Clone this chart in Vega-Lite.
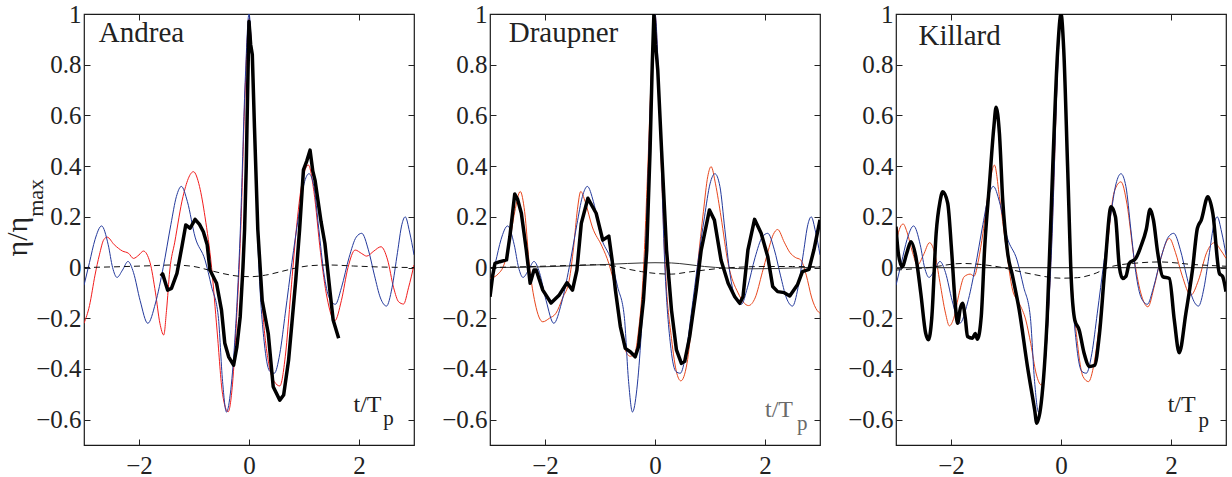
{
  "$schema": "https://vega.github.io/schema/vega-lite/v6.json",
  "background": "white",
  "padding": {"left": 2, "top": 1, "right": 0, "bottom": 0},
  "datasets": {
    "linear": [
      {"t": -3.0, "eta": -0.07}, {"t": -2.9, "eta": 0.02}, {"t": -2.8, "eta": 0.11}, {"t": -2.68, "eta": 0.164},
      {"t": -2.56, "eta": 0.09}, {"t": -2.48, "eta": 0.0}, {"t": -2.4, "eta": -0.039}, {"t": -2.3, "eta": -0.01},
      {"t": -2.2, "eta": 0.024}, {"t": -2.1, "eta": -0.02}, {"t": -1.98, "eta": -0.13}, {"t": -1.84, "eta": -0.22},
      {"t": -1.7, "eta": -0.14}, {"t": -1.56, "eta": 0.0}, {"t": -1.42, "eta": 0.17}, {"t": -1.32, "eta": 0.28},
      {"t": -1.23, "eta": 0.32}, {"t": -1.12, "eta": 0.26}, {"t": -0.98, "eta": 0.12}, {"t": -0.8, "eta": 0.03},
      {"t": -0.68, "eta": -0.076}, {"t": -0.56, "eta": -0.19}, {"t": -0.48, "eta": -0.45}, {"t": -0.41, "eta": -0.57},
      {"t": -0.33, "eta": -0.48}, {"t": -0.25, "eta": -0.26}, {"t": -0.16, "eta": 0.135}, {"t": -0.07, "eta": 0.73},
      {"t": 0.0, "eta": 1.0}, {"t": 0.08, "eta": 0.66}, {"t": 0.17, "eta": 0.05}, {"t": 0.29, "eta": -0.32},
      {"t": 0.38, "eta": -0.41}, {"t": 0.46, "eta": -0.417}, {"t": 0.56, "eta": -0.34}, {"t": 0.66, "eta": -0.18},
      {"t": 0.78, "eta": 0.02}, {"t": 0.9, "eta": 0.2}, {"t": 1.0, "eta": 0.33}, {"t": 1.09, "eta": 0.37},
      {"t": 1.18, "eta": 0.32}, {"t": 1.27, "eta": 0.15}, {"t": 1.36, "eta": -0.02}, {"t": 1.46, "eta": -0.12},
      {"t": 1.57, "eta": -0.145}, {"t": 1.68, "eta": -0.08}, {"t": 1.82, "eta": 0.04}, {"t": 1.95, "eta": 0.12},
      {"t": 2.05, "eta": 0.135}, {"t": 2.17, "eta": 0.07}, {"t": 2.28, "eta": -0.03}, {"t": 2.39, "eta": -0.12},
      {"t": 2.5, "eta": -0.152}, {"t": 2.6, "eta": -0.08}, {"t": 2.7, "eta": 0.06}, {"t": 2.78, "eta": 0.17},
      {"t": 2.84, "eta": 0.2}, {"t": 2.92, "eta": 0.14}, {"t": 3.0, "eta": 0.05}
    ],
    "curves": [
      {"site": "Andrea", "series": "second", "t": -3.0, "eta": -0.22},
      {"site": "Andrea", "series": "second", "t": -2.9, "eta": -0.15},
      {"site": "Andrea", "series": "second", "t": -2.8, "eta": -0.03},
      {"site": "Andrea", "series": "second", "t": -2.72, "eta": 0.05},
      {"site": "Andrea", "series": "second", "t": -2.64, "eta": 0.11},
      {"site": "Andrea", "series": "second", "t": -2.58, "eta": 0.12},
      {"site": "Andrea", "series": "second", "t": -2.45, "eta": 0.09},
      {"site": "Andrea", "series": "second", "t": -2.3, "eta": 0.065},
      {"site": "Andrea", "series": "second", "t": -2.19, "eta": 0.056},
      {"site": "Andrea", "series": "second", "t": -2.1, "eta": 0.036},
      {"site": "Andrea", "series": "second", "t": -2.0, "eta": 0.05},
      {"site": "Andrea", "series": "second", "t": -1.92, "eta": 0.065},
      {"site": "Andrea", "series": "second", "t": -1.8, "eta": 0.02},
      {"site": "Andrea", "series": "second", "t": -1.7, "eta": -0.1},
      {"site": "Andrea", "series": "second", "t": -1.62, "eta": -0.22},
      {"site": "Andrea", "series": "second", "t": -1.55, "eta": -0.266},
      {"site": "Andrea", "series": "second", "t": -1.5, "eta": -0.17},
      {"site": "Andrea", "series": "second", "t": -1.44, "eta": -0.01},
      {"site": "Andrea", "series": "second", "t": -1.35, "eta": 0.1},
      {"site": "Andrea", "series": "second", "t": -1.2, "eta": 0.28},
      {"site": "Andrea", "series": "second", "t": -1.01, "eta": 0.378},
      {"site": "Andrea", "series": "second", "t": -0.9, "eta": 0.32},
      {"site": "Andrea", "series": "second", "t": -0.8, "eta": 0.2},
      {"site": "Andrea", "series": "second", "t": -0.68, "eta": 0.0},
      {"site": "Andrea", "series": "second", "t": -0.58, "eta": -0.25},
      {"site": "Andrea", "series": "second", "t": -0.48, "eta": -0.5},
      {"site": "Andrea", "series": "second", "t": -0.38, "eta": -0.569},
      {"site": "Andrea", "series": "second", "t": -0.3, "eta": -0.46},
      {"site": "Andrea", "series": "second", "t": -0.23, "eta": -0.22},
      {"site": "Andrea", "series": "second", "t": -0.15, "eta": 0.15},
      {"site": "Andrea", "series": "second", "t": -0.07, "eta": 0.7},
      {"site": "Andrea", "series": "second", "t": 0.0, "eta": 0.98},
      {"site": "Andrea", "series": "second", "t": 0.07, "eta": 0.75},
      {"site": "Andrea", "series": "second", "t": 0.16, "eta": 0.18},
      {"site": "Andrea", "series": "second", "t": 0.26, "eta": -0.2},
      {"site": "Andrea", "series": "second", "t": 0.36, "eta": -0.38},
      {"site": "Andrea", "series": "second", "t": 0.46, "eta": -0.45},
      {"site": "Andrea", "series": "second", "t": 0.56, "eta": -0.467},
      {"site": "Andrea", "series": "second", "t": 0.66, "eta": -0.35},
      {"site": "Andrea", "series": "second", "t": 0.76, "eta": -0.1},
      {"site": "Andrea", "series": "second", "t": 0.86, "eta": 0.15},
      {"site": "Andrea", "series": "second", "t": 0.96, "eta": 0.33},
      {"site": "Andrea", "series": "second", "t": 1.08, "eta": 0.404},
      {"site": "Andrea", "series": "second", "t": 1.18, "eta": 0.3},
      {"site": "Andrea", "series": "second", "t": 1.3, "eta": 0.06},
      {"site": "Andrea", "series": "second", "t": 1.42, "eta": -0.12},
      {"site": "Andrea", "series": "second", "t": 1.56, "eta": -0.21},
      {"site": "Andrea", "series": "second", "t": 1.68, "eta": -0.13},
      {"site": "Andrea", "series": "second", "t": 1.8, "eta": 0.0},
      {"site": "Andrea", "series": "second", "t": 1.93, "eta": 0.069},
      {"site": "Andrea", "series": "second", "t": 2.05, "eta": 0.055},
      {"site": "Andrea", "series": "second", "t": 2.14, "eta": 0.045},
      {"site": "Andrea", "series": "second", "t": 2.27, "eta": 0.065},
      {"site": "Andrea", "series": "second", "t": 2.4, "eta": 0.082},
      {"site": "Andrea", "series": "second", "t": 2.52, "eta": 0.03},
      {"site": "Andrea", "series": "second", "t": 2.63, "eta": -0.08},
      {"site": "Andrea", "series": "second", "t": 2.72, "eta": -0.135},
      {"site": "Andrea", "series": "second", "t": 2.81, "eta": -0.144},
      {"site": "Andrea", "series": "second", "t": 2.9, "eta": -0.08},
      {"site": "Andrea", "series": "second", "t": 3.0, "eta": 0.01},

      {"site": "Andrea", "series": "measured", "t": -1.6, "eta": -0.034},
      {"site": "Andrea", "series": "measured", "t": -1.57, "eta": -0.025},
      {"site": "Andrea", "series": "measured", "t": -1.48, "eta": -0.089},
      {"site": "Andrea", "series": "measured", "t": -1.41, "eta": -0.082},
      {"site": "Andrea", "series": "measured", "t": -1.31, "eta": -0.023},
      {"site": "Andrea", "series": "measured", "t": -1.22, "eta": 0.082},
      {"site": "Andrea", "series": "measured", "t": -1.15, "eta": 0.168},
      {"site": "Andrea", "series": "measured", "t": -1.07, "eta": 0.155},
      {"site": "Andrea", "series": "measured", "t": -0.98, "eta": 0.19},
      {"site": "Andrea", "series": "measured", "t": -0.9, "eta": 0.17},
      {"site": "Andrea", "series": "measured", "t": -0.83, "eta": 0.141},
      {"site": "Andrea", "series": "measured", "t": -0.76, "eta": 0.09},
      {"site": "Andrea", "series": "measured", "t": -0.71, "eta": -0.01},
      {"site": "Andrea", "series": "measured", "t": -0.59, "eta": -0.062},
      {"site": "Andrea", "series": "measured", "t": -0.5, "eta": -0.168},
      {"site": "Andrea", "series": "measured", "t": -0.44, "eta": -0.299},
      {"site": "Andrea", "series": "measured", "t": -0.37, "eta": -0.352},
      {"site": "Andrea", "series": "measured", "t": -0.28, "eta": -0.385},
      {"site": "Andrea", "series": "measured", "t": -0.22, "eta": -0.312},
      {"site": "Andrea", "series": "measured", "t": -0.16, "eta": -0.194},
      {"site": "Andrea", "series": "measured", "t": -0.11, "eta": 0.0},
      {"site": "Andrea", "series": "measured", "t": -0.08, "eta": 0.15},
      {"site": "Andrea", "series": "measured", "t": -0.05, "eta": 0.4},
      {"site": "Andrea", "series": "measured", "t": -0.02, "eta": 0.75},
      {"site": "Andrea", "series": "measured", "t": 0.0, "eta": 0.97},
      {"site": "Andrea", "series": "measured", "t": 0.03, "eta": 0.88},
      {"site": "Andrea", "series": "measured", "t": 0.06, "eta": 0.84},
      {"site": "Andrea", "series": "measured", "t": 0.1, "eta": 0.55},
      {"site": "Andrea", "series": "measured", "t": 0.16, "eta": 0.15},
      {"site": "Andrea", "series": "measured", "t": 0.24, "eta": -0.13},
      {"site": "Andrea", "series": "measured", "t": 0.35, "eta": -0.26},
      {"site": "Andrea", "series": "measured", "t": 0.44, "eta": -0.47},
      {"site": "Andrea", "series": "measured", "t": 0.56, "eta": -0.523},
      {"site": "Andrea", "series": "measured", "t": 0.63, "eta": -0.503},
      {"site": "Andrea", "series": "measured", "t": 0.72, "eta": -0.365},
      {"site": "Andrea", "series": "measured", "t": 0.78, "eta": -0.22},
      {"site": "Andrea", "series": "measured", "t": 0.85, "eta": -0.05},
      {"site": "Andrea", "series": "measured", "t": 0.92, "eta": 0.15},
      {"site": "Andrea", "series": "measured", "t": 0.99, "eta": 0.385},
      {"site": "Andrea", "series": "measured", "t": 1.05, "eta": 0.42},
      {"site": "Andrea", "series": "measured", "t": 1.11, "eta": 0.463},
      {"site": "Andrea", "series": "measured", "t": 1.16, "eta": 0.38},
      {"site": "Andrea", "series": "measured", "t": 1.2, "eta": 0.345},
      {"site": "Andrea", "series": "measured", "t": 1.31, "eta": 0.181},
      {"site": "Andrea", "series": "measured", "t": 1.38, "eta": 0.095},
      {"site": "Andrea", "series": "measured", "t": 1.47, "eta": -0.089},
      {"site": "Andrea", "series": "measured", "t": 1.53, "eta": -0.207},
      {"site": "Andrea", "series": "measured", "t": 1.63, "eta": -0.279},

      {"site": "Andrea", "series": "setdown", "t": -3.0, "eta": 0.0},
      {"site": "Andrea", "series": "setdown", "t": -2.4, "eta": 0.003},
      {"site": "Andrea", "series": "setdown", "t": -1.8, "eta": 0.007},
      {"site": "Andrea", "series": "setdown", "t": -1.4, "eta": 0.01},
      {"site": "Andrea", "series": "setdown", "t": -1.0, "eta": 0.004},
      {"site": "Andrea", "series": "setdown", "t": -0.7, "eta": -0.012},
      {"site": "Andrea", "series": "setdown", "t": -0.4, "eta": -0.027},
      {"site": "Andrea", "series": "setdown", "t": -0.15, "eta": -0.035},
      {"site": "Andrea", "series": "setdown", "t": 0.05, "eta": -0.036},
      {"site": "Andrea", "series": "setdown", "t": 0.3, "eta": -0.03},
      {"site": "Andrea", "series": "setdown", "t": 0.6, "eta": -0.015},
      {"site": "Andrea", "series": "setdown", "t": 0.85, "eta": -0.002},
      {"site": "Andrea", "series": "setdown", "t": 1.1, "eta": 0.007},
      {"site": "Andrea", "series": "setdown", "t": 1.45, "eta": 0.01},
      {"site": "Andrea", "series": "setdown", "t": 1.9, "eta": 0.006},
      {"site": "Andrea", "series": "setdown", "t": 2.4, "eta": 0.002},
      {"site": "Andrea", "series": "setdown", "t": 3.0, "eta": 0.0},

      {"site": "Draupner", "series": "second", "t": -3.0, "eta": -0.043},
      {"site": "Draupner", "series": "second", "t": -2.85, "eta": -0.025},
      {"site": "Draupner", "series": "second", "t": -2.76, "eta": 0.003},
      {"site": "Draupner", "series": "second", "t": -2.66, "eta": 0.08},
      {"site": "Draupner", "series": "second", "t": -2.55, "eta": 0.22},
      {"site": "Draupner", "series": "second", "t": -2.45, "eta": 0.3},
      {"site": "Draupner", "series": "second", "t": -2.37, "eta": 0.22},
      {"site": "Draupner", "series": "second", "t": -2.28, "eta": 0.0},
      {"site": "Draupner", "series": "second", "t": -2.18, "eta": -0.14},
      {"site": "Draupner", "series": "second", "t": -2.04, "eta": -0.214},
      {"site": "Draupner", "series": "second", "t": -1.92, "eta": -0.2},
      {"site": "Draupner", "series": "second", "t": -1.8, "eta": -0.18},
      {"site": "Draupner", "series": "second", "t": -1.68, "eta": -0.12},
      {"site": "Draupner", "series": "second", "t": -1.56, "eta": -0.05},
      {"site": "Draupner", "series": "second", "t": -1.48, "eta": 0.08},
      {"site": "Draupner", "series": "second", "t": -1.41, "eta": 0.23},
      {"site": "Draupner", "series": "second", "t": -1.35, "eta": 0.3},
      {"site": "Draupner", "series": "second", "t": -1.27, "eta": 0.26},
      {"site": "Draupner", "series": "second", "t": -1.14, "eta": 0.16},
      {"site": "Draupner", "series": "second", "t": -0.96, "eta": 0.082},
      {"site": "Draupner", "series": "second", "t": -0.84, "eta": 0.016},
      {"site": "Draupner", "series": "second", "t": -0.72, "eta": -0.089},
      {"site": "Draupner", "series": "second", "t": -0.63, "eta": -0.22},
      {"site": "Draupner", "series": "second", "t": -0.55, "eta": -0.32},
      {"site": "Draupner", "series": "second", "t": -0.45, "eta": -0.35},
      {"site": "Draupner", "series": "second", "t": -0.37, "eta": -0.34},
      {"site": "Draupner", "series": "second", "t": -0.3, "eta": -0.25},
      {"site": "Draupner", "series": "second", "t": -0.22, "eta": -0.05},
      {"site": "Draupner", "series": "second", "t": -0.13, "eta": 0.4},
      {"site": "Draupner", "series": "second", "t": -0.06, "eta": 0.8},
      {"site": "Draupner", "series": "second", "t": 0.0, "eta": 1.0},
      {"site": "Draupner", "series": "second", "t": 0.06, "eta": 0.75},
      {"site": "Draupner", "series": "second", "t": 0.13, "eta": 0.3},
      {"site": "Draupner", "series": "second", "t": 0.2, "eta": -0.05},
      {"site": "Draupner", "series": "second", "t": 0.3, "eta": -0.28},
      {"site": "Draupner", "series": "second", "t": 0.4, "eta": -0.42},
      {"site": "Draupner", "series": "second", "t": 0.47, "eta": -0.447},
      {"site": "Draupner", "series": "second", "t": 0.58, "eta": -0.38},
      {"site": "Draupner", "series": "second", "t": 0.68, "eta": -0.2},
      {"site": "Draupner", "series": "second", "t": 0.78, "eta": 0.02},
      {"site": "Draupner", "series": "second", "t": 0.88, "eta": 0.22},
      {"site": "Draupner", "series": "second", "t": 0.96, "eta": 0.36},
      {"site": "Draupner", "series": "second", "t": 1.02, "eta": 0.398},
      {"site": "Draupner", "series": "second", "t": 1.1, "eta": 0.33},
      {"site": "Draupner", "series": "second", "t": 1.2, "eta": 0.2},
      {"site": "Draupner", "series": "second", "t": 1.33, "eta": 0.016},
      {"site": "Draupner", "series": "second", "t": 1.51, "eta": -0.1},
      {"site": "Draupner", "series": "second", "t": 1.7, "eta": -0.15},
      {"site": "Draupner", "series": "second", "t": 1.82, "eta": -0.12},
      {"site": "Draupner", "series": "second", "t": 1.95, "eta": -0.02},
      {"site": "Draupner", "series": "second", "t": 2.05, "eta": 0.06},
      {"site": "Draupner", "series": "second", "t": 2.15, "eta": 0.13},
      {"site": "Draupner", "series": "second", "t": 2.23, "eta": 0.15},
      {"site": "Draupner", "series": "second", "t": 2.35, "eta": 0.1},
      {"site": "Draupner", "series": "second", "t": 2.45, "eta": 0.06},
      {"site": "Draupner", "series": "second", "t": 2.55, "eta": 0.04},
      {"site": "Draupner", "series": "second", "t": 2.65, "eta": 0.03},
      {"site": "Draupner", "series": "second", "t": 2.75, "eta": -0.03},
      {"site": "Draupner", "series": "second", "t": 2.85, "eta": -0.12},
      {"site": "Draupner", "series": "second", "t": 2.95, "eta": -0.17},
      {"site": "Draupner", "series": "second", "t": 3.0, "eta": -0.18},

      {"site": "Draupner", "series": "measured", "t": -3.0, "eta": -0.115},
      {"site": "Draupner", "series": "measured", "t": -2.95, "eta": -0.03},
      {"site": "Draupner", "series": "measured", "t": -2.91, "eta": 0.016},
      {"site": "Draupner", "series": "measured", "t": -2.82, "eta": 0.023},
      {"site": "Draupner", "series": "measured", "t": -2.7, "eta": 0.03},
      {"site": "Draupner", "series": "measured", "t": -2.64, "eta": 0.12},
      {"site": "Draupner", "series": "measured", "t": -2.55, "eta": 0.29},
      {"site": "Draupner", "series": "measured", "t": -2.5, "eta": 0.27},
      {"site": "Draupner", "series": "measured", "t": -2.43, "eta": 0.214},
      {"site": "Draupner", "series": "measured", "t": -2.34, "eta": 0.069},
      {"site": "Draupner", "series": "measured", "t": -2.27, "eta": -0.062},
      {"site": "Draupner", "series": "measured", "t": -2.2, "eta": -0.01},
      {"site": "Draupner", "series": "measured", "t": -2.16, "eta": -0.01},
      {"site": "Draupner", "series": "measured", "t": -2.04, "eta": -0.089},
      {"site": "Draupner", "series": "measured", "t": -1.89, "eta": -0.14},
      {"site": "Draupner", "series": "measured", "t": -1.74, "eta": -0.108},
      {"site": "Draupner", "series": "measured", "t": -1.6, "eta": -0.06},
      {"site": "Draupner", "series": "measured", "t": -1.5, "eta": -0.089},
      {"site": "Draupner", "series": "measured", "t": -1.42, "eta": -0.01},
      {"site": "Draupner", "series": "measured", "t": -1.34, "eta": 0.174},
      {"site": "Draupner", "series": "measured", "t": -1.22, "eta": 0.273},
      {"site": "Draupner", "series": "measured", "t": -1.07, "eta": 0.214},
      {"site": "Draupner", "series": "measured", "t": -0.95, "eta": 0.108},
      {"site": "Draupner", "series": "measured", "t": -0.84, "eta": 0.124},
      {"site": "Draupner", "series": "measured", "t": -0.78, "eta": 0.03},
      {"site": "Draupner", "series": "measured", "t": -0.72, "eta": -0.089},
      {"site": "Draupner", "series": "measured", "t": -0.63, "eta": -0.233},
      {"site": "Draupner", "series": "measured", "t": -0.54, "eta": -0.319},
      {"site": "Draupner", "series": "measured", "t": -0.45, "eta": -0.332},
      {"site": "Draupner", "series": "measured", "t": -0.36, "eta": -0.352},
      {"site": "Draupner", "series": "measured", "t": -0.3, "eta": -0.312},
      {"site": "Draupner", "series": "measured", "t": -0.21, "eta": -0.128},
      {"site": "Draupner", "series": "measured", "t": -0.15, "eta": 0.069},
      {"site": "Draupner", "series": "measured", "t": -0.09, "eta": 0.46},
      {"site": "Draupner", "series": "measured", "t": -0.05, "eta": 0.8},
      {"site": "Draupner", "series": "measured", "t": -0.02, "eta": 1.0},
      {"site": "Draupner", "series": "measured", "t": 0.01, "eta": 0.88},
      {"site": "Draupner", "series": "measured", "t": 0.05, "eta": 0.78},
      {"site": "Draupner", "series": "measured", "t": 0.12, "eta": 0.46},
      {"site": "Draupner", "series": "measured", "t": 0.21, "eta": 0.069},
      {"site": "Draupner", "series": "measured", "t": 0.3, "eta": -0.168},
      {"site": "Draupner", "series": "measured", "t": 0.39, "eta": -0.325},
      {"site": "Draupner", "series": "measured", "t": 0.48, "eta": -0.378},
      {"site": "Draupner", "series": "measured", "t": 0.54, "eta": -0.37},
      {"site": "Draupner", "series": "measured", "t": 0.63, "eta": -0.273},
      {"site": "Draupner", "series": "measured", "t": 0.75, "eta": -0.089},
      {"site": "Draupner", "series": "measured", "t": 0.84, "eta": 0.069},
      {"site": "Draupner", "series": "measured", "t": 0.99, "eta": 0.227},
      {"site": "Draupner", "series": "measured", "t": 1.08, "eta": 0.187},
      {"site": "Draupner", "series": "measured", "t": 1.2, "eta": 0.03},
      {"site": "Draupner", "series": "measured", "t": 1.33, "eta": -0.062},
      {"site": "Draupner", "series": "measured", "t": 1.45, "eta": -0.115},
      {"site": "Draupner", "series": "measured", "t": 1.54, "eta": -0.141},
      {"site": "Draupner", "series": "measured", "t": 1.6, "eta": -0.115},
      {"site": "Draupner", "series": "measured", "t": 1.69, "eta": 0.07},
      {"site": "Draupner", "series": "measured", "t": 1.81, "eta": 0.19},
      {"site": "Draupner", "series": "measured", "t": 1.93, "eta": 0.135},
      {"site": "Draupner", "series": "measured", "t": 2.05, "eta": 0.043},
      {"site": "Draupner", "series": "measured", "t": 2.14, "eta": -0.075},
      {"site": "Draupner", "series": "measured", "t": 2.23, "eta": -0.095},
      {"site": "Draupner", "series": "measured", "t": 2.35, "eta": -0.099},
      {"site": "Draupner", "series": "measured", "t": 2.45, "eta": -0.112},
      {"site": "Draupner", "series": "measured", "t": 2.59, "eta": -0.068},
      {"site": "Draupner", "series": "measured", "t": 2.68, "eta": -0.016},
      {"site": "Draupner", "series": "measured", "t": 2.8, "eta": -0.007},
      {"site": "Draupner", "series": "measured", "t": 2.89, "eta": 0.07},
      {"site": "Draupner", "series": "measured", "t": 3.0, "eta": 0.188},

      {"site": "Draupner", "series": "difference", "t": -3.0, "eta": 0.0},
      {"site": "Draupner", "series": "difference", "t": -2.4, "eta": 0.001},
      {"site": "Draupner", "series": "difference", "t": -1.6, "eta": 0.006},
      {"site": "Draupner", "series": "difference", "t": -1.0, "eta": 0.011},
      {"site": "Draupner", "series": "difference", "t": -0.5, "eta": 0.016},
      {"site": "Draupner", "series": "difference", "t": 0.0, "eta": 0.019},
      {"site": "Draupner", "series": "difference", "t": 0.3, "eta": 0.018},
      {"site": "Draupner", "series": "difference", "t": 0.6, "eta": 0.012},
      {"site": "Draupner", "series": "difference", "t": 0.9, "eta": 0.004},
      {"site": "Draupner", "series": "difference", "t": 1.3, "eta": -0.002},
      {"site": "Draupner", "series": "difference", "t": 1.7, "eta": -0.005},
      {"site": "Draupner", "series": "difference", "t": 2.2, "eta": -0.004},
      {"site": "Draupner", "series": "difference", "t": 2.6, "eta": -0.001},
      {"site": "Draupner", "series": "difference", "t": 3.0, "eta": 0.002},

      {"site": "Draupner", "series": "setdown", "t": -3.0, "eta": 0.0},
      {"site": "Draupner", "series": "setdown", "t": -2.4, "eta": 0.003},
      {"site": "Draupner", "series": "setdown", "t": -1.6, "eta": 0.008},
      {"site": "Draupner", "series": "setdown", "t": -1.1, "eta": 0.011},
      {"site": "Draupner", "series": "setdown", "t": -0.8, "eta": 0.008},
      {"site": "Draupner", "series": "setdown", "t": -0.5, "eta": -0.006},
      {"site": "Draupner", "series": "setdown", "t": -0.25, "eta": -0.016},
      {"site": "Draupner", "series": "setdown", "t": 0.05, "eta": -0.024},
      {"site": "Draupner", "series": "setdown", "t": 0.3, "eta": -0.026},
      {"site": "Draupner", "series": "setdown", "t": 0.6, "eta": -0.018},
      {"site": "Draupner", "series": "setdown", "t": 0.9, "eta": -0.01},
      {"site": "Draupner", "series": "setdown", "t": 1.2, "eta": -0.003},
      {"site": "Draupner", "series": "setdown", "t": 1.6, "eta": 0.002},
      {"site": "Draupner", "series": "setdown", "t": 2.0, "eta": 0.004},
      {"site": "Draupner", "series": "setdown", "t": 2.5, "eta": 0.004},
      {"site": "Draupner", "series": "setdown", "t": 3.0, "eta": 0.003},

      {"site": "Killard", "series": "second", "t": -3.0, "eta": 0.095},
      {"site": "Killard", "series": "second", "t": -2.94, "eta": 0.15},
      {"site": "Killard", "series": "second", "t": -2.87, "eta": 0.172},
      {"site": "Killard", "series": "second", "t": -2.8, "eta": 0.14},
      {"site": "Killard", "series": "second", "t": -2.7, "eta": 0.06},
      {"site": "Killard", "series": "second", "t": -2.61, "eta": 0.01},
      {"site": "Killard", "series": "second", "t": -2.5, "eta": 0.05},
      {"site": "Killard", "series": "second", "t": -2.39, "eta": 0.098},
      {"site": "Killard", "series": "second", "t": -2.3, "eta": 0.06},
      {"site": "Killard", "series": "second", "t": -2.2, "eta": -0.06},
      {"site": "Killard", "series": "second", "t": -2.1, "eta": -0.18},
      {"site": "Killard", "series": "second", "t": -2.03, "eta": -0.23},
      {"site": "Killard", "series": "second", "t": -1.95, "eta": -0.2},
      {"site": "Killard", "series": "second", "t": -1.85, "eta": -0.1},
      {"site": "Killard", "series": "second", "t": -1.76, "eta": -0.036},
      {"site": "Killard", "series": "second", "t": -1.65, "eta": -0.026},
      {"site": "Killard", "series": "second", "t": -1.58, "eta": -0.034},
      {"site": "Killard", "series": "second", "t": -1.5, "eta": 0.03},
      {"site": "Killard", "series": "second", "t": -1.42, "eta": 0.135},
      {"site": "Killard", "series": "second", "t": -1.32, "eta": 0.3},
      {"site": "Killard", "series": "second", "t": -1.21, "eta": 0.404},
      {"site": "Killard", "series": "second", "t": -1.12, "eta": 0.28},
      {"site": "Killard", "series": "second", "t": -1.0, "eta": 0.082},
      {"site": "Killard", "series": "second", "t": -0.88, "eta": -0.089},
      {"site": "Killard", "series": "second", "t": -0.76, "eta": -0.141},
      {"site": "Killard", "series": "second", "t": -0.64, "eta": -0.207},
      {"site": "Killard", "series": "second", "t": -0.55, "eta": -0.3},
      {"site": "Killard", "series": "second", "t": -0.45, "eta": -0.42},
      {"site": "Killard", "series": "second", "t": -0.36, "eta": -0.463},
      {"site": "Killard", "series": "second", "t": -0.28, "eta": -0.35},
      {"site": "Killard", "series": "second", "t": -0.2, "eta": -0.05},
      {"site": "Killard", "series": "second", "t": -0.12, "eta": 0.4},
      {"site": "Killard", "series": "second", "t": -0.06, "eta": 0.8},
      {"site": "Killard", "series": "second", "t": 0.0, "eta": 1.0},
      {"site": "Killard", "series": "second", "t": 0.06, "eta": 0.75},
      {"site": "Killard", "series": "second", "t": 0.13, "eta": 0.3},
      {"site": "Killard", "series": "second", "t": 0.2, "eta": -0.05},
      {"site": "Killard", "series": "second", "t": 0.3, "eta": -0.3},
      {"site": "Killard", "series": "second", "t": 0.4, "eta": -0.43},
      {"site": "Killard", "series": "second", "t": 0.5, "eta": -0.45},
      {"site": "Killard", "series": "second", "t": 0.6, "eta": -0.38},
      {"site": "Killard", "series": "second", "t": 0.72, "eta": -0.18},
      {"site": "Killard", "series": "second", "t": 0.85, "eta": 0.1},
      {"site": "Killard", "series": "second", "t": 0.97, "eta": 0.3},
      {"site": "Killard", "series": "second", "t": 1.09, "eta": 0.338},
      {"site": "Killard", "series": "second", "t": 1.2, "eta": 0.25},
      {"site": "Killard", "series": "second", "t": 1.32, "eta": 0.05},
      {"site": "Killard", "series": "second", "t": 1.45, "eta": -0.1},
      {"site": "Killard", "series": "second", "t": 1.58, "eta": -0.155},
      {"site": "Killard", "series": "second", "t": 1.7, "eta": -0.07},
      {"site": "Killard", "series": "second", "t": 1.82, "eta": 0.04},
      {"site": "Killard", "series": "second", "t": 1.97, "eta": 0.115},
      {"site": "Killard", "series": "second", "t": 2.08, "eta": 0.06},
      {"site": "Killard", "series": "second", "t": 2.2, "eta": -0.03},
      {"site": "Killard", "series": "second", "t": 2.36, "eta": -0.109},
      {"site": "Killard", "series": "second", "t": 2.5, "eta": -0.05},
      {"site": "Killard", "series": "second", "t": 2.65, "eta": 0.06},
      {"site": "Killard", "series": "second", "t": 2.79, "eta": 0.098},
      {"site": "Killard", "series": "second", "t": 2.9, "eta": 0.07},
      {"site": "Killard", "series": "second", "t": 3.0, "eta": 0.036},

      {"site": "Killard", "series": "measured", "t": -3.0, "eta": 0.161},
      {"site": "Killard", "series": "measured", "t": -2.96, "eta": 0.06},
      {"site": "Killard", "series": "measured", "t": -2.89, "eta": 0.003},
      {"site": "Killard", "series": "measured", "t": -2.8, "eta": 0.06},
      {"site": "Killard", "series": "measured", "t": -2.73, "eta": 0.102},
      {"site": "Killard", "series": "measured", "t": -2.64, "eta": 0.043},
      {"site": "Killard", "series": "measured", "t": -2.55, "eta": -0.1},
      {"site": "Killard", "series": "measured", "t": -2.46, "eta": -0.26},
      {"site": "Killard", "series": "measured", "t": -2.41, "eta": -0.285},
      {"site": "Killard", "series": "measured", "t": -2.35, "eta": -0.2},
      {"site": "Killard", "series": "measured", "t": -2.27, "eta": 0.135},
      {"site": "Killard", "series": "measured", "t": -2.2, "eta": 0.26},
      {"site": "Killard", "series": "measured", "t": -2.15, "eta": 0.299},
      {"site": "Killard", "series": "measured", "t": -2.06, "eta": 0.254},
      {"site": "Killard", "series": "measured", "t": -1.99, "eta": 0.07},
      {"site": "Killard", "series": "measured", "t": -1.92, "eta": -0.15},
      {"site": "Killard", "series": "measured", "t": -1.88, "eta": -0.22},
      {"site": "Killard", "series": "measured", "t": -1.83, "eta": -0.16},
      {"site": "Killard", "series": "measured", "t": -1.79, "eta": -0.141},
      {"site": "Killard", "series": "measured", "t": -1.74, "eta": -0.2},
      {"site": "Killard", "series": "measured", "t": -1.7, "eta": -0.272},
      {"site": "Killard", "series": "measured", "t": -1.61, "eta": -0.279},
      {"site": "Killard", "series": "measured", "t": -1.56, "eta": -0.26},
      {"site": "Killard", "series": "measured", "t": -1.52, "eta": -0.283},
      {"site": "Killard", "series": "measured", "t": -1.45, "eta": -0.193},
      {"site": "Killard", "series": "measured", "t": -1.39, "eta": 0.07},
      {"site": "Killard", "series": "measured", "t": -1.3, "eta": 0.332},
      {"site": "Killard", "series": "measured", "t": -1.22, "eta": 0.556},
      {"site": "Killard", "series": "measured", "t": -1.18, "eta": 0.632},
      {"site": "Killard", "series": "measured", "t": -1.12, "eta": 0.53},
      {"site": "Killard", "series": "measured", "t": -1.06, "eta": 0.267},
      {"site": "Killard", "series": "measured", "t": -0.97, "eta": 0.057},
      {"site": "Killard", "series": "measured", "t": -0.88, "eta": -0.035},
      {"site": "Killard", "series": "measured", "t": -0.76, "eta": -0.167},
      {"site": "Killard", "series": "measured", "t": -0.61, "eta": -0.39},
      {"site": "Killard", "series": "measured", "t": -0.48, "eta": -0.56},
      {"site": "Killard", "series": "measured", "t": -0.44, "eta": -0.614},
      {"site": "Killard", "series": "measured", "t": -0.36, "eta": -0.535},
      {"site": "Killard", "series": "measured", "t": -0.25, "eta": -0.193},
      {"site": "Killard", "series": "measured", "t": -0.15, "eta": 0.398},
      {"site": "Killard", "series": "measured", "t": -0.06, "eta": 0.858},
      {"site": "Killard", "series": "measured", "t": 0.0, "eta": 1.0},
      {"site": "Killard", "series": "measured", "t": 0.05, "eta": 0.858},
      {"site": "Killard", "series": "measured", "t": 0.12, "eta": 0.4},
      {"site": "Killard", "series": "measured", "t": 0.19, "eta": -0.062},
      {"site": "Killard", "series": "measured", "t": 0.25, "eta": -0.206},
      {"site": "Killard", "series": "measured", "t": 0.33, "eta": -0.246},
      {"site": "Killard", "series": "measured", "t": 0.42, "eta": -0.338},
      {"site": "Killard", "series": "measured", "t": 0.52, "eta": -0.39},
      {"site": "Killard", "series": "measured", "t": 0.61, "eta": -0.386},
      {"site": "Killard", "series": "measured", "t": 0.7, "eta": -0.26},
      {"site": "Killard", "series": "measured", "t": 0.8, "eta": 0.004},
      {"site": "Killard", "series": "measured", "t": 0.91, "eta": 0.24},
      {"site": "Killard", "series": "measured", "t": 0.99, "eta": 0.2},
      {"site": "Killard", "series": "measured", "t": 1.06, "eta": 0.004},
      {"site": "Killard", "series": "measured", "t": 1.12, "eta": -0.043},
      {"site": "Killard", "series": "measured", "t": 1.18, "eta": -0.035},
      {"site": "Killard", "series": "measured", "t": 1.24, "eta": 0.016},
      {"site": "Killard", "series": "measured", "t": 1.36, "eta": 0.036},
      {"site": "Killard", "series": "measured", "t": 1.45, "eta": 0.082},
      {"site": "Killard", "series": "measured", "t": 1.55, "eta": 0.15},
      {"site": "Killard", "series": "measured", "t": 1.62, "eta": 0.23},
      {"site": "Killard", "series": "measured", "t": 1.68, "eta": 0.188},
      {"site": "Killard", "series": "measured", "t": 1.76, "eta": 0.056},
      {"site": "Killard", "series": "measured", "t": 1.85, "eta": -0.036},
      {"site": "Killard", "series": "measured", "t": 1.97, "eta": -0.043},
      {"site": "Killard", "series": "measured", "t": 2.06, "eta": -0.207},
      {"site": "Killard", "series": "measured", "t": 2.15, "eta": -0.336},
      {"site": "Killard", "series": "measured", "t": 2.27, "eta": -0.181},
      {"site": "Killard", "series": "measured", "t": 2.39, "eta": -0.01},
      {"site": "Killard", "series": "measured", "t": 2.48, "eta": 0.155},
      {"site": "Killard", "series": "measured", "t": 2.55, "eta": 0.187},
      {"site": "Killard", "series": "measured", "t": 2.67, "eta": 0.279},
      {"site": "Killard", "series": "measured", "t": 2.76, "eta": 0.214},
      {"site": "Killard", "series": "measured", "t": 2.88, "eta": -0.023},
      {"site": "Killard", "series": "measured", "t": 2.94, "eta": -0.036},
      {"site": "Killard", "series": "measured", "t": 3.0, "eta": -0.095},

      {"site": "Killard", "series": "difference", "t": -3.0, "eta": 0.0},
      {"site": "Killard", "series": "difference", "t": 0.0, "eta": 0.0},
      {"site": "Killard", "series": "difference", "t": 3.0, "eta": 0.0},

      {"site": "Killard", "series": "setdown", "t": -3.0, "eta": -0.01},
      {"site": "Killard", "series": "setdown", "t": -2.4, "eta": 0.0},
      {"site": "Killard", "series": "setdown", "t": -1.8, "eta": 0.016},
      {"site": "Killard", "series": "setdown", "t": -1.2, "eta": 0.005},
      {"site": "Killard", "series": "setdown", "t": -0.6, "eta": -0.023},
      {"site": "Killard", "series": "setdown", "t": 0.0, "eta": -0.042},
      {"site": "Killard", "series": "setdown", "t": 0.3, "eta": -0.04},
      {"site": "Killard", "series": "setdown", "t": 0.6, "eta": -0.025},
      {"site": "Killard", "series": "setdown", "t": 0.9, "eta": 0.003},
      {"site": "Killard", "series": "setdown", "t": 1.4, "eta": 0.018},
      {"site": "Killard", "series": "setdown", "t": 1.8, "eta": 0.022},
      {"site": "Killard", "series": "setdown", "t": 2.4, "eta": 0.012},
      {"site": "Killard", "series": "setdown", "t": 3.0, "eta": 0.005}
    ],
    "sites": [{"site": "Andrea"}, {"site": "Draupner"}, {"site": "Killard"}]
  },
  "config": {
    "view": {"stroke": "#1a1a1a", "strokeWidth": 1.2},
    "text": {"font": "Liberation Serif", "color": "#222222"}
  },
  "spacing": 76,
  "bounds": "flush",
  "hconcat": [
    {
      "width": 330,
      "height": 431,
      "resolve": {"axis": {"x": "independent", "y": "independent"}},
      "layer": [
        {
          "data": {"name": "curves"},
          "transform": [{"filter": "datum.site == 'Andrea' && datum.series == 'second'"}],
          "mark": {"type": "line", "color": "#f21c1c", "strokeWidth": 1, "interpolate": "monotone", "clip": true},
          "encoding": {
            "x": {"field": "t", "type": "quantitative", "scale": {"domain": [-3, 3], "nice": false, "zero": false},
                  "axis": {"orient": "bottom", "values": [-2, 0, 2], "format": "~g", "title": null, "domain": false, "grid": false, "labelFont": "Liberation Serif", "labelFontSize": 25, "labelColor": "#222222", "tickColor": "#222222", "tickSize": -6, "labelPadding": 14}},
            "y": {"field": "eta", "type": "quantitative", "scale": {"domain": [-0.7, 1], "nice": false, "zero": false},
                  "axis": {"orient": "left", "values": [-0.6, -0.4, -0.2, 0, 0.2, 0.4, 0.6, 0.8, 1], "format": "~g", "title": null, "domain": false, "grid": false, "labelFont": "Liberation Serif", "labelFontSize": 25, "labelColor": "#222222", "tickColor": "#222222", "tickSize": -6, "labelPadding": 9}}
          }
        },
        {
          "data": {"name": "linear"},
          "mark": {"type": "line", "color": "#23399c", "strokeWidth": 1, "interpolate": "monotone", "clip": true},
          "encoding": {
            "x": {"field": "t", "type": "quantitative", "axis": {"orient": "top", "values": [-2, 0, 2], "labels": false, "title": null, "domain": false, "grid": false, "tickColor": "#222222", "tickSize": -6}},
            "y": {"field": "eta", "type": "quantitative", "axis": {"orient": "right", "values": [-0.6, -0.4, -0.2, 0, 0.2, 0.4, 0.6, 0.8, 1], "labels": false, "title": null, "domain": false, "grid": false, "tickColor": "#222222", "tickSize": -6}}
          }
        },
        {
          "data": {"name": "curves"},
          "transform": [{"filter": "datum.site == 'Andrea' && datum.series == 'setdown'"}],
          "mark": {"type": "line", "color": "#111111", "strokeWidth": 1, "strokeDash": [6, 4], "interpolate": "monotone", "clip": true},
          "encoding": {"x": {"field": "t", "type": "quantitative", "axis": null}, "y": {"field": "eta", "type": "quantitative", "axis": null}}
        },
        {
          "data": {"name": "curves"},
          "transform": [{"filter": "datum.site == 'Andrea' && datum.series == 'measured'"}],
          "mark": {"type": "line", "color": "#000000", "strokeWidth": 3.5, "strokeJoin": "round", "clip": true},
          "encoding": {"x": {"field": "t", "type": "quantitative", "axis": null}, "y": {"field": "eta", "type": "quantitative", "axis": null}}
        },
        {
          "data": {"name": "sites"},
          "transform": [{"filter": "datum.site == 'Andrea'"}],
          "mark": {"type": "text", "fontSize": 29, "align": "left", "baseline": "alphabetic"},
          "encoding": {"x": {"datum": -2.73, "type": "quantitative", "axis": null}, "y": {"datum": 0.89, "type": "quantitative", "axis": null}, "text": {"field": "site"}}
        },
        {
          "data": {"name": "sites"},
          "transform": [{"filter": "datum.site == 'Andrea'"}],
          "mark": {"type": "text", "text": "t/T", "fontSize": 24, "align": "left", "baseline": "alphabetic"},
          "encoding": {"x": {"datum": 1.9, "type": "quantitative", "axis": null}, "y": {"datum": -0.569, "type": "quantitative", "axis": null}}
        },
        {
          "data": {"name": "sites"},
          "transform": [{"filter": "datum.site == 'Andrea'"}],
          "mark": {"type": "text", "text": "p", "fontSize": 21, "align": "left", "baseline": "alphabetic"},
          "encoding": {"x": {"datum": 2.44, "type": "quantitative", "axis": null}, "y": {"datum": -0.621, "type": "quantitative", "axis": null}}
        },
        {
          "data": {"name": "sites"},
          "transform": [{"filter": "datum.site == 'Andrea'"}],
          "mark": {"type": "text", "text": "η/η", "fontSize": 30, "angle": 270, "align": "right", "baseline": "alphabetic", "dy": -57},
          "encoding": {"x": {"datum": -3, "type": "quantitative", "axis": null}, "y": {"datum": 0.2, "type": "quantitative", "axis": null}}
        },
        {
          "data": {"name": "sites"},
          "transform": [{"filter": "datum.site == 'Andrea'"}],
          "mark": {"type": "text", "text": "max", "fontSize": 22, "angle": 270, "align": "left", "baseline": "alphabetic", "dy": -41},
          "encoding": {"x": {"datum": -3, "type": "quantitative", "axis": null}, "y": {"datum": 0.2, "type": "quantitative", "axis": null}}
        }
      ]
    },
    {
      "width": 330,
      "height": 431,
      "resolve": {"axis": {"x": "independent", "y": "independent"}},
      "layer": [
        {
          "data": {"name": "curves"},
          "transform": [{"filter": "datum.site == 'Draupner' && datum.series == 'second'"}],
          "mark": {"type": "line", "color": "#e8461c", "strokeWidth": 1, "interpolate": "monotone", "clip": true},
          "encoding": {
            "x": {"field": "t", "type": "quantitative", "scale": {"domain": [-3, 3], "nice": false, "zero": false},
                  "axis": {"orient": "bottom", "values": [-2, 0, 2], "format": "~g", "title": null, "domain": false, "grid": false, "labelFont": "Liberation Serif", "labelFontSize": 25, "labelColor": "#222222", "tickColor": "#222222", "tickSize": -6, "labelPadding": 14}},
            "y": {"field": "eta", "type": "quantitative", "scale": {"domain": [-0.7, 1], "nice": false, "zero": false},
                  "axis": {"orient": "left", "values": [-0.6, -0.4, -0.2, 0, 0.2, 0.4, 0.6, 0.8, 1], "format": "~g", "title": null, "domain": false, "grid": false, "labelFont": "Liberation Serif", "labelFontSize": 25, "labelColor": "#222222", "tickColor": "#222222", "tickSize": -6, "labelPadding": 9}}
          }
        },
        {
          "data": {"name": "linear"},
          "mark": {"type": "line", "color": "#23399c", "strokeWidth": 1, "interpolate": "monotone", "clip": true},
          "encoding": {
            "x": {"field": "t", "type": "quantitative", "axis": {"orient": "top", "values": [-2, 0, 2], "labels": false, "title": null, "domain": false, "grid": false, "tickColor": "#222222", "tickSize": -6}},
            "y": {"field": "eta", "type": "quantitative", "axis": {"orient": "right", "values": [-0.6, -0.4, -0.2, 0, 0.2, 0.4, 0.6, 0.8, 1], "labels": false, "title": null, "domain": false, "grid": false, "tickColor": "#222222", "tickSize": -6}}
          }
        },
        {
          "data": {"name": "curves"},
          "transform": [{"filter": "datum.site == 'Draupner' && datum.series == 'difference'"}],
          "mark": {"type": "line", "color": "#333333", "strokeWidth": 1, "interpolate": "monotone", "clip": true},
          "encoding": {"x": {"field": "t", "type": "quantitative", "axis": null}, "y": {"field": "eta", "type": "quantitative", "axis": null}}
        },
        {
          "data": {"name": "curves"},
          "transform": [{"filter": "datum.site == 'Draupner' && datum.series == 'setdown'"}],
          "mark": {"type": "line", "color": "#111111", "strokeWidth": 1, "strokeDash": [6, 4], "interpolate": "monotone", "clip": true},
          "encoding": {"x": {"field": "t", "type": "quantitative", "axis": null}, "y": {"field": "eta", "type": "quantitative", "axis": null}}
        },
        {
          "data": {"name": "curves"},
          "transform": [{"filter": "datum.site == 'Draupner' && datum.series == 'measured'"}],
          "mark": {"type": "line", "color": "#000000", "strokeWidth": 3.5, "strokeJoin": "round", "clip": true},
          "encoding": {"x": {"field": "t", "type": "quantitative", "axis": null}, "y": {"field": "eta", "type": "quantitative", "axis": null}}
        },
        {
          "data": {"name": "sites"},
          "transform": [{"filter": "datum.site == 'Draupner'"}],
          "mark": {"type": "text", "fontSize": 29, "align": "left", "baseline": "alphabetic"},
          "encoding": {"x": {"datum": -2.66, "type": "quantitative", "axis": null}, "y": {"datum": 0.89, "type": "quantitative", "axis": null}, "text": {"field": "site"}}
        },
        {
          "data": {"name": "sites"},
          "transform": [{"filter": "datum.site == 'Draupner'"}],
          "mark": {"type": "text", "text": "t/T", "fontSize": 24, "align": "left", "baseline": "alphabetic", "color": "#6a6a6a"},
          "encoding": {"x": {"datum": 2.0, "type": "quantitative", "axis": null}, "y": {"datum": -0.589, "type": "quantitative", "axis": null}}
        },
        {
          "data": {"name": "sites"},
          "transform": [{"filter": "datum.site == 'Draupner'"}],
          "mark": {"type": "text", "text": "p", "fontSize": 21, "align": "left", "baseline": "alphabetic", "color": "#6a6a6a"},
          "encoding": {"x": {"datum": 2.58, "type": "quantitative", "axis": null}, "y": {"datum": -0.64, "type": "quantitative", "axis": null}}
        }
      ]
    },
    {
      "width": 330,
      "height": 431,
      "resolve": {"axis": {"x": "independent", "y": "independent"}},
      "layer": [
        {
          "data": {"name": "curves"},
          "transform": [{"filter": "datum.site == 'Killard' && datum.series == 'second'"}],
          "mark": {"type": "line", "color": "#e8461c", "strokeWidth": 1, "interpolate": "monotone", "clip": true},
          "encoding": {
            "x": {"field": "t", "type": "quantitative", "scale": {"domain": [-3, 3], "nice": false, "zero": false},
                  "axis": {"orient": "bottom", "values": [-2, 0, 2], "format": "~g", "title": null, "domain": false, "grid": false, "labelFont": "Liberation Serif", "labelFontSize": 25, "labelColor": "#222222", "tickColor": "#222222", "tickSize": -6, "labelPadding": 14}},
            "y": {"field": "eta", "type": "quantitative", "scale": {"domain": [-0.7, 1], "nice": false, "zero": false},
                  "axis": {"orient": "left", "values": [-0.6, -0.4, -0.2, 0, 0.2, 0.4, 0.6, 0.8, 1], "format": "~g", "title": null, "domain": false, "grid": false, "labelFont": "Liberation Serif", "labelFontSize": 25, "labelColor": "#222222", "tickColor": "#222222", "tickSize": -6, "labelPadding": 9}}
          }
        },
        {
          "data": {"name": "linear"},
          "mark": {"type": "line", "color": "#23399c", "strokeWidth": 1, "interpolate": "monotone", "clip": true},
          "encoding": {
            "x": {"field": "t", "type": "quantitative", "axis": {"orient": "top", "values": [-2, 0, 2], "labels": false, "title": null, "domain": false, "grid": false, "tickColor": "#222222", "tickSize": -6}},
            "y": {"field": "eta", "type": "quantitative", "axis": {"orient": "right", "values": [-0.6, -0.4, -0.2, 0, 0.2, 0.4, 0.6, 0.8, 1], "labels": false, "title": null, "domain": false, "grid": false, "tickColor": "#222222", "tickSize": -6}}
          }
        },
        {
          "data": {"name": "curves"},
          "transform": [{"filter": "datum.site == 'Killard' && datum.series == 'difference'"}],
          "mark": {"type": "line", "color": "#444444", "strokeWidth": 1.2, "clip": true},
          "encoding": {"x": {"field": "t", "type": "quantitative", "axis": null}, "y": {"field": "eta", "type": "quantitative", "axis": null}}
        },
        {
          "data": {"name": "curves"},
          "transform": [{"filter": "datum.site == 'Killard' && datum.series == 'setdown'"}],
          "mark": {"type": "line", "color": "#111111", "strokeWidth": 1, "strokeDash": [6, 4], "interpolate": "monotone", "clip": true},
          "encoding": {"x": {"field": "t", "type": "quantitative", "axis": null}, "y": {"field": "eta", "type": "quantitative", "axis": null}}
        },
        {
          "data": {"name": "curves"},
          "transform": [{"filter": "datum.site == 'Killard' && datum.series == 'measured'"}],
          "mark": {"type": "line", "color": "#000000", "strokeWidth": 3.5, "strokeJoin": "round", "interpolate": "monotone", "clip": true},
          "encoding": {"x": {"field": "t", "type": "quantitative", "axis": null}, "y": {"field": "eta", "type": "quantitative", "axis": null}}
        },
        {
          "data": {"name": "sites"},
          "transform": [{"filter": "datum.site == 'Killard'"}],
          "mark": {"type": "text", "fontSize": 29, "align": "left", "baseline": "alphabetic"},
          "encoding": {"x": {"datum": -2.59, "type": "quantitative", "axis": null}, "y": {"datum": 0.878, "type": "quantitative", "axis": null}, "text": {"field": "site"}}
        },
        {
          "data": {"name": "sites"},
          "transform": [{"filter": "datum.site == 'Killard'"}],
          "mark": {"type": "text", "text": "t/T", "fontSize": 24, "align": "left", "baseline": "alphabetic"},
          "encoding": {"x": {"datum": 1.94, "type": "quantitative", "axis": null}, "y": {"datum": -0.569, "type": "quantitative", "axis": null}}
        },
        {
          "data": {"name": "sites"},
          "transform": [{"filter": "datum.site == 'Killard'"}],
          "mark": {"type": "text", "text": "p", "fontSize": 21, "align": "left", "baseline": "alphabetic"},
          "encoding": {"x": {"datum": 2.5, "type": "quantitative", "axis": null}, "y": {"datum": -0.628, "type": "quantitative", "axis": null}}
        }
      ]
    }
  ]
}
